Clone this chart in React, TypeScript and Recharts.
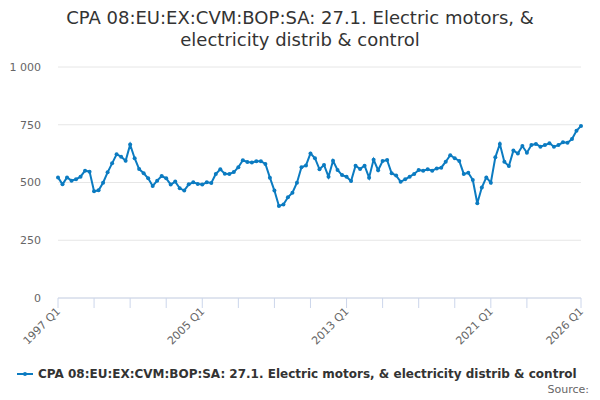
import { LineChart, Line, XAxis, YAxis, CartesianGrid } from "recharts";

const START_YEAR = 1997;

// quarterly values
const values1997to2004 = [
  522, 492, 522, 508, 514, 525, 551, 547, 462, 466, 499, 544, 583, 622, 612, 594,
  664, 605, 558, 540, 518, 485, 508, 528, 518, 491, 504, 475, 465, 492, 501, 494,
];
const values2005to2012 = [
  491, 501, 498, 537, 557, 538, 537, 545, 566, 596, 589, 587, 592, 592, 580, 521,
  465, 398, 405, 436, 456, 499, 566, 574, 626, 605, 557, 576, 525, 594, 554, 532,
];
const values2013to2020 = [
  525, 506, 573, 558, 573, 521, 599, 553, 593, 597, 540, 530, 503, 514, 525, 537,
  554, 551, 557, 551, 561, 564, 590, 618, 605, 593, 537, 542, 511, 410, 478, 522,
];
const values2021to2026 = [
  499, 609, 667, 590, 571, 638, 626, 658, 629, 662, 667, 655, 662, 670, 655, 662,
  674, 672, 688, 724, 745,
];

const seriesValues = [...values1997to2004, ...values2005to2012, ...values2013to2020, ...values2021to2026];

const xTicks = [
  "1997 Q1", "1999 Q1", "2001 Q1", "2003 Q1", "2005 Q1", "2007 Q1", "2009 Q1",
  "2011 Q1", "2013 Q1", "2015 Q1", "2017 Q1", "2019 Q1", "2021 Q1", "2023 Q1", "2026 Q1",
];
const labelledTicks = ["1997 Q1", "2005 Q1", "2013 Q1", "2021 Q1", "2026 Q1"];
const yTicks = [0, 250, 500, 750, 1000];

const SERIES_NAME = "CPA 08:EU:EX:CVM:BOP:SA: 27.1. Electric motors, & electricity distrib & control";
const LINE_COLOR = "#0b7bc1";
const FONT = "'DejaVu Sans', sans-serif";

const data = seriesValues.map((v, i) => ({
  period: `${START_YEAR + Math.floor(i / 4)} Q${(i % 4) + 1}`,
  value: v,
}));

function XTick(props: any) {
  const { x, y, payload } = props;
  if (!labelledTicks.includes(payload.value)) return null;
  const tx = x + 3;
  const ty = y + 2;
  return (
    <text
      x={tx}
      y={ty}
      transform={`rotate(-45 ${tx} ${ty})`}
      textAnchor="end"
      fill="#666"
      fontSize={11}
      fontFamily={FONT}
    >
      {payload.value}
    </text>
  );
}

export default function App() {
  return (
    <div style={{ position: "absolute", left: 0, top: 0, width: 600, height: 400, background: "#fff", fontFamily: FONT }}>
      <div
        style={{
          position: "absolute",
          top: 7,
          left: 0,
          width: 600,
          textAlign: "center",
          fontSize: 18,
          lineHeight: "22px",
          color: "#333",
        }}
      >
        CPA 08:EU:EX:CVM:BOP:SA: 27.1. Electric motors, &amp;
        <br />
        electricity distrib &amp; control
      </div>
      <LineChart width={600} height={400} data={data} margin={{ top: 67, right: 19, bottom: 0, left: 0 }}>
        <CartesianGrid vertical={false} stroke="#e6e6e6" />
        <XAxis
          dataKey="period"
          ticks={xTicks}
          interval={0}
          tick={<XTick />}
          tickSize={10}
          stroke="#ccd6eb"
          tickLine={{ stroke: "#ccd6eb" }}
          axisLine={{ stroke: "#ccd6eb" }}
          height={102}
        />
        <YAxis
          domain={[0, 1000]}
          ticks={yTicks}
          width={58}
          axisLine={false}
          tickLine={false}
          tickMargin={11}
          tick={{ fill: "#666", fontSize: 11, fontFamily: FONT }}
          tickFormatter={(v: number) => (v >= 1000 ? v.toLocaleString("en-US").replace(",", " ") : String(v))}
        />
        <Line
          type="linear"
          dataKey="value"
          stroke={LINE_COLOR}
          strokeWidth={2}
          dot={{ r: 2, fill: LINE_COLOR, stroke: LINE_COLOR, strokeWidth: 0 }}
          isAnimationActive={false}
        />
      </LineChart>
      <div
        style={{
          position: "absolute",
          top: 367,
          left: 17,
          display: "flex",
          alignItems: "center",
          fontSize: 12,
          fontWeight: "bold",
          color: "#333",
          whiteSpace: "nowrap",
        }}
      >
        <svg width={16} height={12} style={{ marginRight: 5 }}>
          <line x1={0} y1={6} x2={16} y2={6} stroke={LINE_COLOR} strokeWidth={2} />
          <circle cx={8} cy={6} r={2} fill={LINE_COLOR} />
        </svg>
        {SERIES_NAME}
      </div>
      <div style={{ position: "absolute", top: 383, right: 11, fontSize: 11, color: "#666" }}>Source:</div>
    </div>
  );
}
